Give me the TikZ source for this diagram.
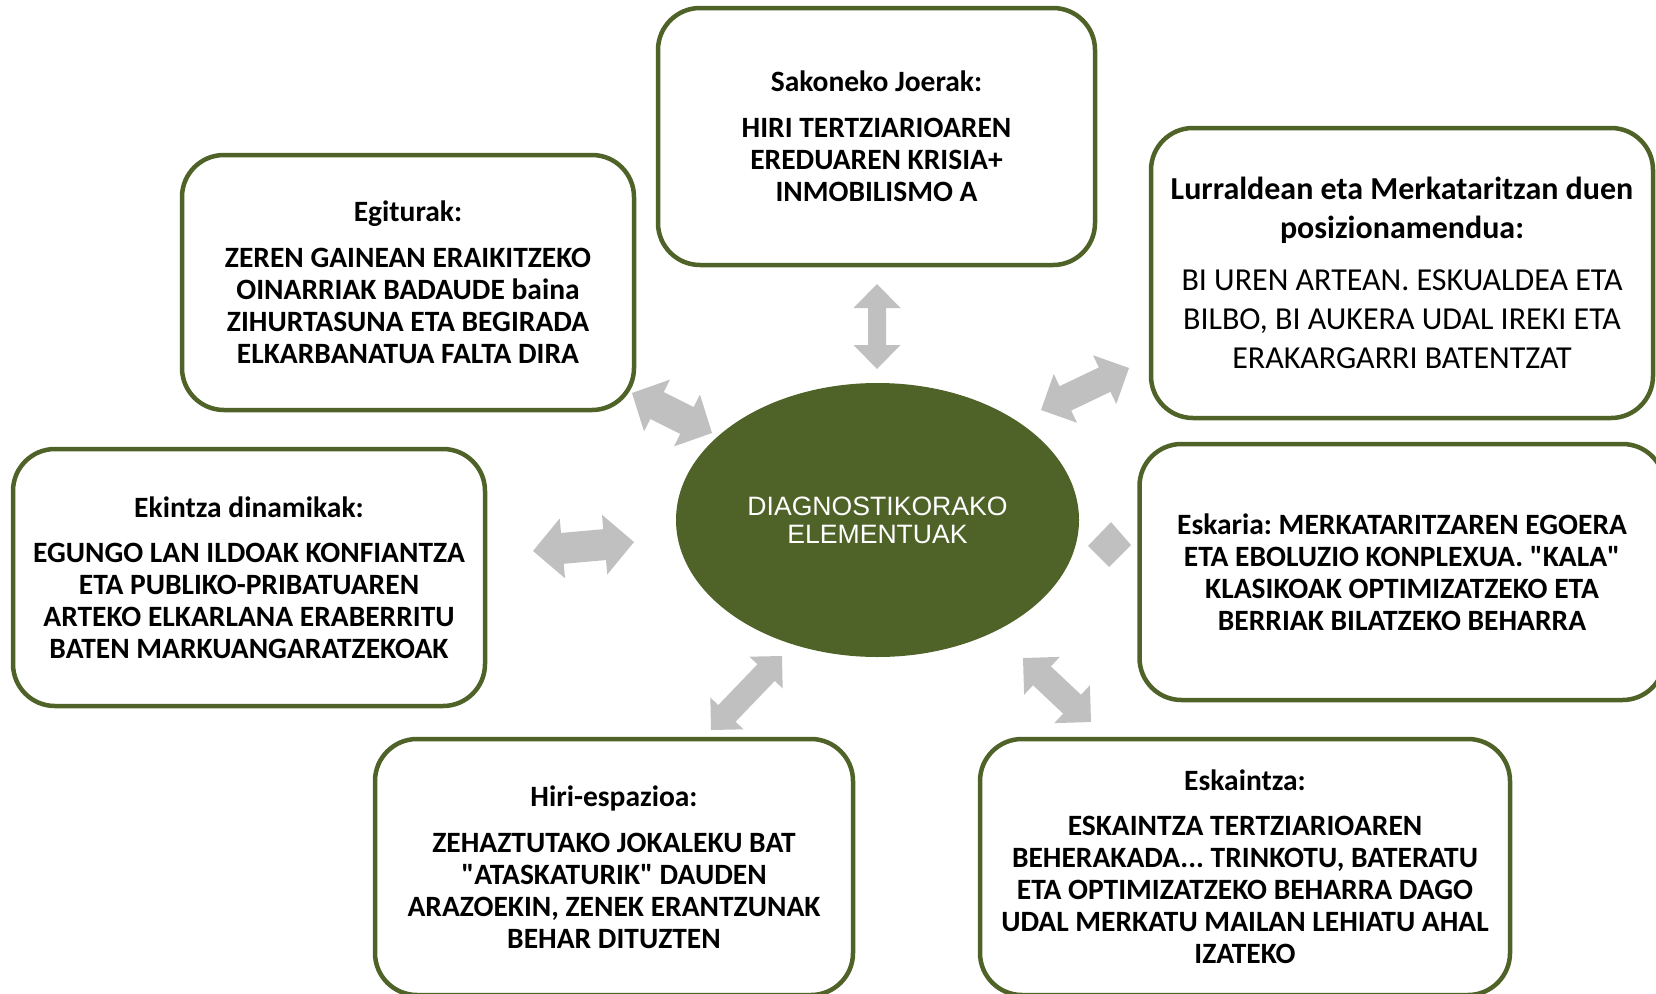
\documentclass[tikz,border=0pt]{standalone}
\usepackage{fontspec}
\setmainfont{Carlito}[Ligatures=TeXOff]
\newfontfamily\arialfont{Liberation Sans}
\usetikzlibrary{calc,shapes.geometric}
\definecolor{boxgreen}{RGB}{79,98,40}
\definecolor{arrowfill}{RGB}{192,192,192}
\frenchspacing
\tikzset{
  box/.style={draw=boxgreen, line width=4.5pt, rounded corners=42pt, fill=white,
    align=center, inner sep=0pt, font=\frenchspacing\bfseries\fontsize{29.5}{32}\selectfont},
  hub/.style={ellipse, fill=boxgreen, inner sep=0pt, text=white, align=center,
    font=\arialfont\fontsize{26.6}{28}\selectfont}
}
\newcommand\dblarrow[5]{%
  \path ($(#1)!#5!(#2)$) coordinate (h1) ($(#2)!#5!(#1)$) coordinate (h2);
  \fill[arrowfill] (#1) -- ($(h1)!#4!90:(#2)$) -- ($(h1)!#3!90:(#2)$)
    -- ($(h2)!#3!-90:(#1)$) -- ($(h2)!#4!-90:(#1)$) -- (#2)
    -- ($(h2)!#4!90:(#1)$) -- ($(h2)!#3!90:(#1)$)
    -- ($(h1)!#3!-90:(#2)$) -- ($(h1)!#4!-90:(#2)$) -- cycle;
}
\begin{document}
\begin{tikzpicture}[x=1pt,y=-1pt]
\useasboundingbox (0,0) rectangle (1656,993);

% arrows
\coordinate (tA) at (877,284);  \coordinate (tB) at (877,369);
\coordinate (ulA) at (632,393); \coordinate (ulB) at (712,433);
\coordinate (urA) at (1129,368);\coordinate (urB) at (1041,410);
\coordinate (lA) at (533,551);  \coordinate (lB) at (634,542);
\coordinate (llA) at (782,656); \coordinate (llB) at (711,730);
\coordinate (lrA) at (1023,658);\coordinate (lrB) at (1091,722);
\dblarrow{tA}{tB}{9pt}{23.5pt}{24pt}
\dblarrow{ulA}{ulB}{15pt}{29pt}{28pt}
\dblarrow{urA}{urB}{13.5pt}{27pt}{27pt}
\dblarrow{lA}{lB}{15.5pt}{30pt}{29.5pt}
\dblarrow{llA}{llB}{12pt}{23pt}{23pt}
\dblarrow{lrA}{lrB}{13pt}{26pt}{26pt}
\fill[arrowfill] (1088,546) -- (1111,522) -- (1131,545) -- (1109,567) -- cycle;

% hub
\node[hub, minimum width=403pt, minimum height=274pt] (hub) at (877.5,520)
  {DIAGNOSTIKORAKO\\ELEMENTUAK};

% boxes
\node[box, minimum width=437pt, minimum height=257pt] (sak) at (876.5,136.5)
  {Sakoneko Joerak:\\[14pt]HIRI TERTZIARIOAREN\\EREDUAREN KRISIA+\\INMOBILISMO A};
\node[box, minimum width=452pt, minimum height=255pt] (egi) at (408,282.5)
  {Egiturak:\\[14pt]ZEREN GAINEAN ERAIKITZEKO\\OINARRIAK BADAUDE baina\\ZIHURTASUNA ETA BEGIRADA\\ELKARBANATUA FALTA DIRA};
\node[box, minimum width=502pt, minimum height=290pt, font=\frenchspacing\fontsize{32}{39}\selectfont] (lur) at (1402,273)
  {\textbf{Lurraldean eta Merkataritzan duen}\\\textbf{posizionamendua:}\\[13pt]BI UREN ARTEAN. ESKUALDEA ETA\\BILBO, BI AUKERA UDAL IREKI ETA\\ERAKARGARRI BATENTZAT};
\node[box, minimum width=472pt, minimum height=257pt] (eki) at (249,577.5)
  {Ekintza dinamikak:\\[13pt]EGUNGO LAN ILDOAK KONFIANTZA\\ETA PUBLIKO-PRIBATUAREN\\ARTEKO ELKARLANA ERABERRITU\\BATEN MARKUANGARATZEKOAK};
\node[box, minimum width=525pt, minimum height=256pt] (esk) at (1402,572)
  {Eskaria: MERKATARITZAREN EGOERA\\ETA EBOLUZIO KONPLEXUA. "KALA"\\KLASIKOAK OPTIMIZATZEKO ETA\\BERRIAK BILATZEKO BEHARRA};
\node[box, minimum width=478pt, minimum height=256pt] (hiri) at (614,867)
  {Hiri-espazioa:\\[14pt]ZEHAZTUTAKO JOKALEKU BAT\\"ATASKATURIK" DAUDEN\\ARAZOEKIN, ZENEK ERANTZUNAK\\BEHAR DITUZTEN};
\node[box, minimum width=530pt, minimum height=256pt] (eska) at (1245,867)
  {Eskaintza:\\[13pt]ESKAINTZA TERTZIARIOAREN\\BEHERAKADA... TRINKOTU, BATERATU\\ETA OPTIMIZATZEKO BEHARRA DAGO\\UDAL MERKATU MAILAN LEHIATU AHAL\\IZATEKO};
\end{tikzpicture}
\end{document}
